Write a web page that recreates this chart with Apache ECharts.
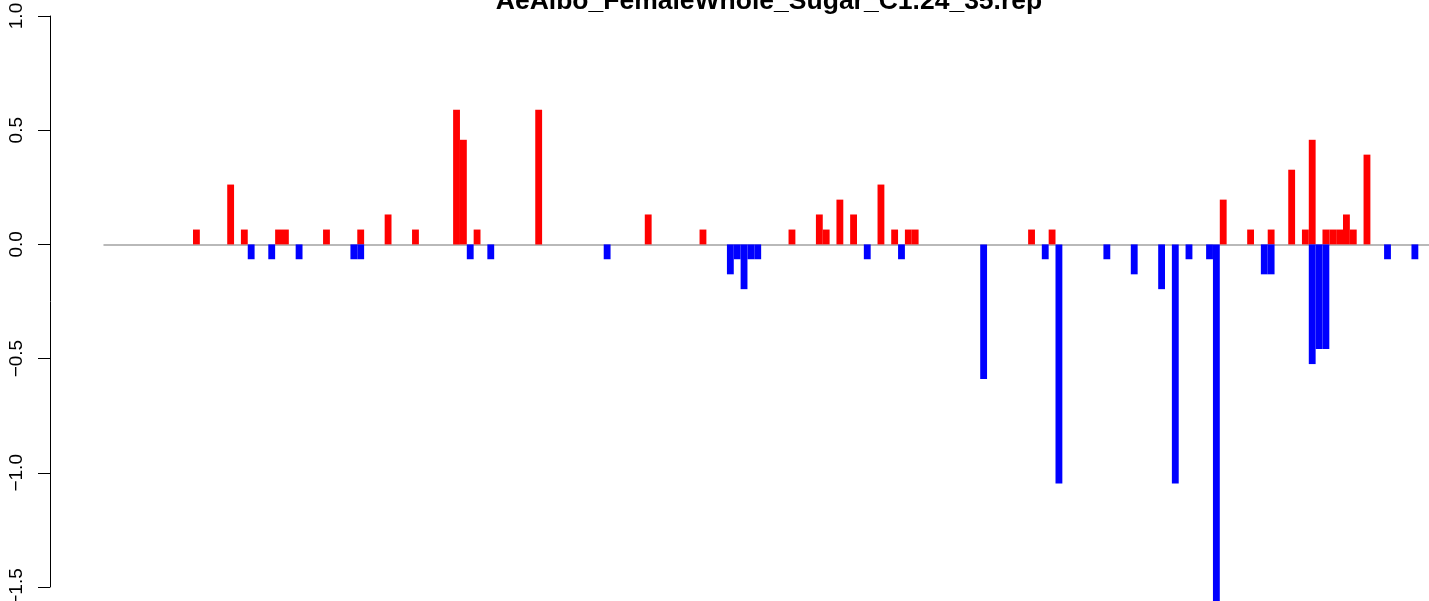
<!DOCTYPE html>
<html>
<head>
<meta charset="utf-8">
<script src="https://cdn.jsdelivr.net/npm/echarts@6/dist/echarts.min.js"></script>
<style>
  html, body { margin: 0; padding: 0; background: #fff; }
  #chart { width: 1429px; height: 601px; }
</style>
</head>
<body>
<div id="chart"></div>
<script>
var titleText = 'AeAlbo_FemaleWhole_Sugar_C1.24_35.rep';

// bar slots along the baseline (hidden labels)
var slotCount = 194;

// red bars (above zero): slot index and value
var upIdx = [13, 18, 20, 25, 26, 32, 37, 41, 45, 51, 52, 54, 63, 79, 87,
             100, 104, 105, 107, 109, 113, 115, 117, 118, 135, 138,
             163, 167, 170, 173, 175, 176, 178, 179, 180, 181, 182, 184];
var upVal = [0.065, 0.262, 0.065, 0.065, 0.065, 0.065, 0.065, 0.131, 0.065, 0.589, 0.458, 0.065, 0.589, 0.131, 0.065,
             0.065, 0.131, 0.065, 0.196, 0.131, 0.262, 0.065, 0.065, 0.065, 0.065, 0.065,
             0.196, 0.065, 0.065, 0.327, 0.065, 0.458, 0.065, 0.065, 0.065, 0.131, 0.065, 0.393];

// blue bars (below zero)
var downIdx = [21, 24, 28, 36, 37, 53, 56, 73, 91, 92, 93, 94, 95, 111, 116,
               128, 137, 139, 146, 150, 154, 156, 158, 161, 162, 169, 170,
               176, 177, 178, 187, 191];
var downVal = [-0.065, -0.065, -0.065, -0.065, -0.065, -0.065, -0.065, -0.065, -0.131, -0.065, -0.196, -0.065, -0.065, -0.065, -0.065,
               -0.589, -0.065, -1.047, -0.065, -0.131, -0.196, -1.047, -0.065, -0.065, -1.571, -0.131, -0.131,
               -0.524, -0.458, -0.458, -0.065, -0.065];

var yTicks = [-1.5, -1.0, -0.5, 0.0, 0.5, 1.0];

var categories = [];
for (var i = 0; i < slotCount; i++) categories.push(String(i + 1));

function pairs(idx, val) {
    var out = [];
    for (var i = 0; i < idx.length; i++) out.push([idx[i], val[i]]);
    return out;
}

var font = 'Liberation Sans, Arial, Helvetica, sans-serif';
var myChart = echarts.init(document.getElementById('chart'));

var option = {
    backgroundColor: '#FFFFFF',
    animation: false,
    title: {
        text: titleText,
        left: 764,
        textAlign: 'center',
        top: -17,
        textStyle: {
            fontFamily: font,
            fontWeight: 'bold',
            fontSize: 26.5,
            color: '#000'
        }
    },
    grid: {
        left: 104,
        right: -3,
        top: 16,
        bottom: 14,
        containLabel: false,
        outerBoundsMode: 'none'
    },
    xAxis: {
        type: 'category',
        data: categories,
        axisLine: {
            onZero: true,
            lineStyle: { color: '#a3a3a3', width: 1.5 }
        },
        axisTick: { show: false },
        axisLabel: { show: false },
        splitLine: { show: false }
    },
    yAxis: {
        type: 'value',
        min: yTicks[0],
        max: yTicks[yTicks.length - 1],
        interval: 0.5,
        offset: 54,
        axisLine: { show: true, onZero: false, lineStyle: { color: '#000', width: 1 } },
        axisTick: { show: true, length: 12, lineStyle: { color: '#000', width: 1 } },
        axisLabel: {
            rotate: 90,
            margin: 24,
            fontFamily: font,
            fontSize: 19,
            color: '#000',
            formatter: function (v) {
                return v.toFixed(1).replace('-', '\u2212');
            }
        },
        splitLine: { show: false }
    },
    series: [
        {
            type: 'bar',
            data: pairs(upIdx, upVal),
            barCategoryGap: '0%',
            barGap: '-100%',
            clip: false,
            itemStyle: { color: '#FF0000' }
        },
        {
            type: 'bar',
            data: pairs(downIdx, downVal),
            barCategoryGap: '0%',
            barGap: '-100%',
            clip: false,
            itemStyle: { color: '#0000FF' }
        }
    ]
};
myChart.setOption(option);
</script>
</body>
</html>
